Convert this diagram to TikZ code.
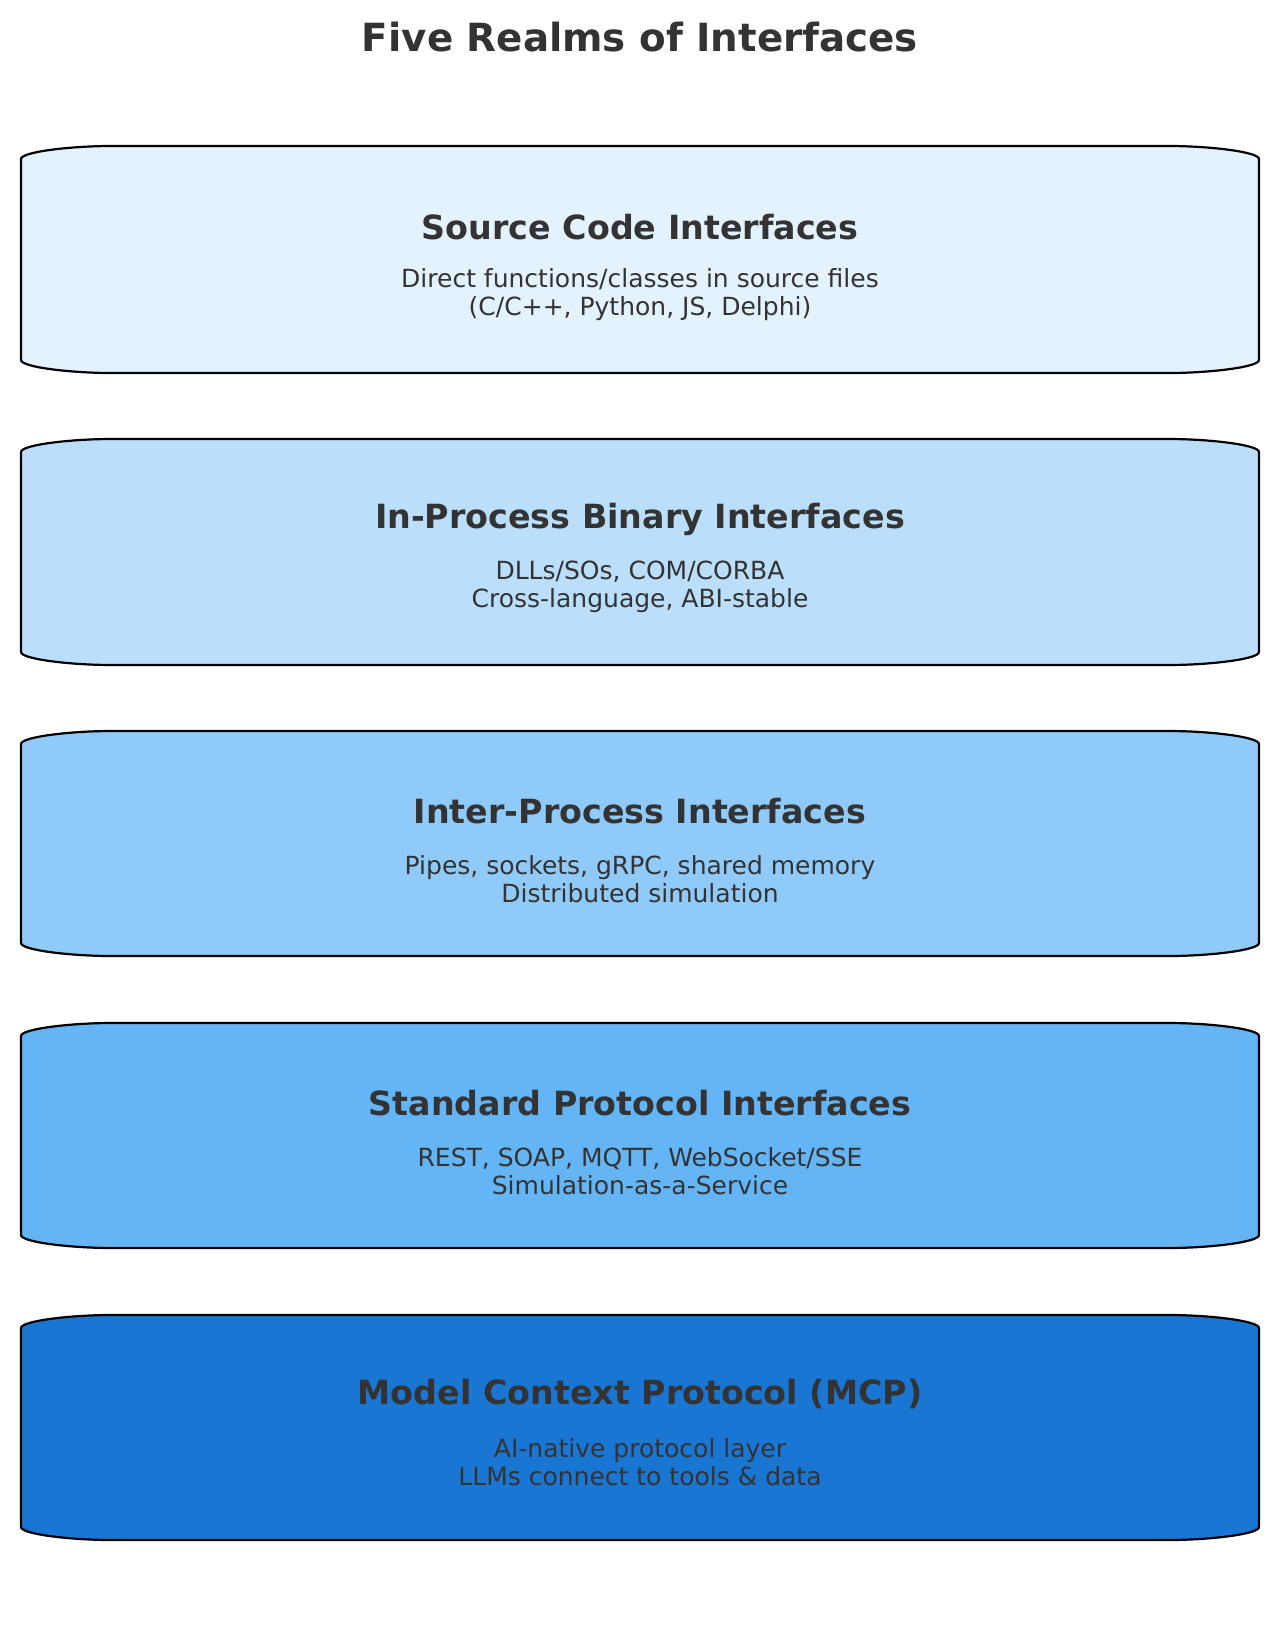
\documentclass[tikz,border=0pt]{standalone}
\usepackage{fontspec}
\setmainfont{DejaVu Sans}
\definecolor{txt}{HTML}{333333}
\definecolor{c1}{HTML}{E3F2FD}
\definecolor{c2}{HTML}{BBDEFB}
\definecolor{c3}{HTML}{90CAF9}
\definecolor{c4}{HTML}{64B5F6}
\definecolor{c5}{HTML}{1976D2}
\tikzset{
  realm/.style={draw=black, line width=2.2pt},
  headtxt/.style={text=txt, font=\bfseries\fontsize{33.3}{38}\selectfont, anchor=center, inner sep=0pt},
  subtxt/.style={text=txt, font=\fontsize{25}{28}\selectfont, align=center, anchor=center, inner sep=0pt},
  titletxt/.style={text=txt, font=\bfseries\fontsize{38.8}{44}\selectfont, anchor=center, inner sep=0pt}
}
\newcommand\realmshape[3]{%
  % #1 top, #2 bottom, #3 fill
  \path[realm, fill=#3]
    (21,#1+13) .. controls (21,#1+5.8) and (71,#1) .. (111,#1)
    -- (1169,#1) .. controls (1209,#1) and (1259,#1+5.8) .. (1259,#1+13)
    -- (1259,#2-13) .. controls (1259,#2-5.8) and (1209,#2) .. (1169,#2)
    -- (111,#2) .. controls (71,#2) and (21,#2-5.8) .. (21,#2-13) -- cycle;
}
\begin{document}
\begin{tikzpicture}[x=1pt,y=-1pt]
\useasboundingbox (0,0) rectangle (1280,1626);
\fill[white] (0,0) rectangle (1280,1626);
\node[titletxt] (title) at (640,37) {Five Realms of Interfaces};

\realmshape{146}{373}{c1}
\node[headtxt] (h1) at (640,227) {Source Code Interfaces};
\node[subtxt] (s1) at (640,295) {Direct functions/classes in source files\\(C/C++, Python, JS, Delphi)};

\realmshape{439}{665}{c2}
\node[headtxt] (h2) at (640,519) {In-Process Binary Interfaces};
\node[subtxt] (s2) at (640,587) {DLLs/SOs, COM/CORBA\\Cross-language, ABI-stable};

\realmshape{731}{956}{c3}
\node[headtxt] (h3) at (640,811) {Inter-Process Interfaces};
\node[subtxt] (s3) at (640,879) {Pipes, sockets, gRPC, shared memory\\Distributed simulation};

\realmshape{1023}{1248}{c4}
\node[headtxt] (h4) at (640,1103) {Standard Protocol Interfaces};
\node[subtxt] (s4) at (640,1171) {REST, SOAP, MQTT, WebSocket/SSE\\Simulation-as-a-Service};

\realmshape{1315}{1540}{c5}
\node[headtxt] (h5) at (640,1394) {Model Context Protocol (MCP)};
\node[subtxt] (s5) at (640,1462) {AI-native protocol layer\\LLMs connect to tools \& data};
\end{tikzpicture}
\end{document}
